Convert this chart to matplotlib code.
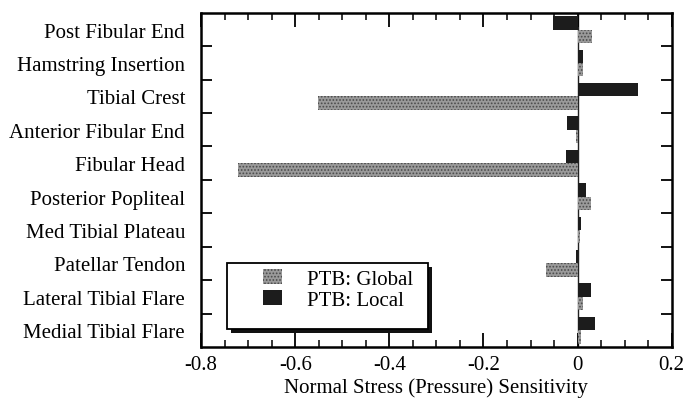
import numpy as np
import matplotlib.pyplot as plt
from matplotlib.patches import Rectangle
from matplotlib.ticker import MultipleLocator, FixedLocator

plt.rcParams['font.family'] = ['Liberation Serif', 'DejaVu Serif']
plt.rcParams['hatch.color'] = '#4a4a4a'
plt.rcParams['hatch.linewidth'] = 0.8

# categories, top to bottom
sites = ["Post Fibular End", "Hamstring Insertion", "Tibial Crest",
         "Anterior Fibular End", "Fibular Head", "Posterior Popliteal",
         "Med Tibial Plateau", "Patellar Tendon", "Lateral Tibial Flare",
         "Medial Tibial Flare"]
ptb_global = [0.03, 0.011, -0.552, -0.003, -0.722, 0.028, 0.006, -0.068, 0.012, 0.008]
ptb_local = [-0.053, 0.011, 0.128, -0.022, -0.025, 0.017, 0.007, -0.004, 0.028, 0.036]

fig = plt.figure(figsize=(6.84, 4.06), dpi=100)
ax = fig.add_axes([0.294, 0.143, 0.688, 0.823])

y = np.arange(len(sites))
h = 0.4
ax.barh(y + h / 2, ptb_global, height=h, color='#9a9a9a', hatch='.....',
        edgecolor='#4a4a4a', linewidth=0, label='PTB: Global', zorder=2)
ax.barh(y - h / 2, ptb_local, height=h, color='#1c1c1c',
        edgecolor='#1c1c1c', linewidth=0, label='PTB: Local', zorder=2)

ax.set_xlim(-0.8, 0.2)
ax.set_ylim(len(sites) - 0.5, -0.5)

# x ticks: labels every 0.2, small ticks every 0.05, top and bottom
ax.set_xticks([-0.8, -0.6, -0.4, -0.2, 0, 0.2])
ax.set_xticklabels(['-0.8', '-0.6', '-0.4', '-0.2', '0', '0.2'])
ax.xaxis.set_minor_locator(MultipleLocator(0.05))
ax.tick_params(axis='x', which='major', direction='in', top=True, length=10,
               width=1.3, labelsize=15, pad=6)
ax.tick_params(axis='x', which='minor', direction='in', top=True, length=5, width=1.1)

# y: labels at centres, tick marks at boundaries
ax.set_yticks(y)
ax.set_yticklabels(sites)
ax.yaxis.set_minor_locator(FixedLocator(np.arange(0.5, len(sites) - 1, 1.0)))
ax.tick_params(axis='y', which='major', length=0, labelsize=15, pad=11.5)
ax.tick_params(axis='y', which='minor', direction='in', right=True, left=True,
               length=8, width=1.3)

for s in ax.spines.values():
    s.set_linewidth(1.8)

ax.axvline(0, color='#222222', linewidth=1.0, zorder=1)

ax.set_xlabel("Normal Stress (Pressure) Sensitivity", fontsize=15)
ax.xaxis.set_label_coords(0.5, -0.09)

# legend box with a dark drop shadow
bx, by, bw, bh = 0.0552, 0.0539, 0.4268, 0.1976
ax.add_patch(Rectangle((bx + 0.009, by - 0.013), bw, bh, transform=ax.transAxes,
                       facecolor='#111111', edgecolor='none', zorder=4))
ax.add_patch(Rectangle((bx, by), bw, bh, transform=ax.transAxes,
                       facecolor='white', edgecolor='black', linewidth=1.3, zorder=5))
leg = ax.legend(loc='upper left', bbox_to_anchor=(0.1316, 0.232), fontsize=15,
                frameon=False, borderpad=0, borderaxespad=0, handlelength=0.9,
                handleheight=0.7, handletextpad=1.2, labelspacing=0.05)
leg.set_zorder(6)

fig.savefig('out.png', dpi=100)
